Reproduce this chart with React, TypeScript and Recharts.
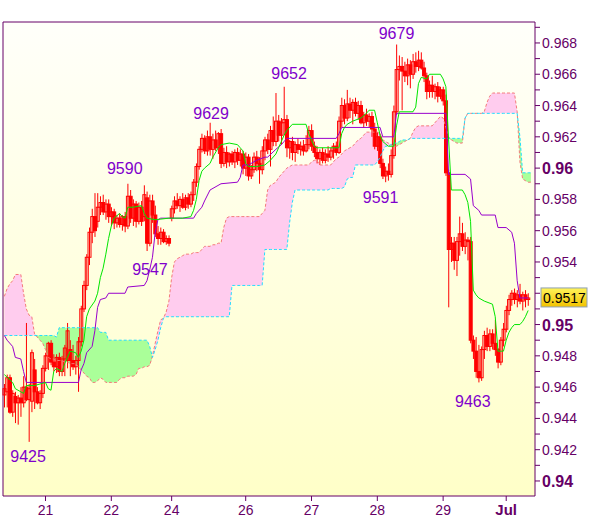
import React from 'react';
import {
  ComposedChart, Bar, Line, Area, XAxis, YAxis, CartesianGrid,
  ReferenceArea, ReferenceDot,
} from 'recharts';

// Prices are in pips (9517 = 0.9517)
// Hourly candles: [open, high, low, close]
const CANDLES: number[][] = [
  [9455, 9462, 9447, 9459], [9457, 9468, 9447, 9466], [9466, 9468, 9443, 9444], [9444, 9458, 9441, 9456],
  [9454, 9457, 9437, 9450], [9450, 9455, 9436, 9453], [9453, 9460, 9441, 9450], [9450, 9467, 9447, 9460],
  [9460, 9501, 9451, 9452], [9452, 9462, 9425, 9459], [9451, 9484, 9444, 9482], [9471, 9478, 9446, 9457],
  [9457, 9460, 9449, 9450], [9450, 9458, 9446, 9456], [9456, 9474, 9453, 9472], [9472, 9482, 9470, 9480],
  [9480, 9489, 9471, 9488], [9488, 9490, 9474, 9476], [9476, 9481, 9470, 9473], [9473, 9481, 9469, 9479],
  [9479, 9482, 9467, 9470], [9470, 9480, 9467, 9478], [9478, 9487, 9467, 9485], [9477, 9501, 9472, 9496],
  [9484, 9490, 9467, 9477], [9477, 9487, 9471, 9473], [9473, 9480, 9468, 9477], [9477, 9492, 9457, 9489],
  [9489, 9512, 9486, 9510], [9510, 9528, 9508, 9525], [9525, 9545, 9522, 9543], [9543, 9562, 9538, 9559],
  [9559, 9574, 9552, 9569], [9569, 9584, 9556, 9560], [9566, 9584, 9562, 9575], [9575, 9582, 9570, 9578],
  [9578, 9583, 9570, 9572], [9572, 9580, 9567, 9577], [9577, 9580, 9565, 9569], [9569, 9575, 9563, 9572],
  [9572, 9574, 9561, 9565], [9565, 9570, 9562, 9568], [9568, 9571, 9562, 9564], [9564, 9570, 9560, 9569],
  [9569, 9572, 9559, 9563], [9563, 9590, 9561, 9582], [9582, 9586, 9565, 9568], [9568, 9580, 9563, 9577],
  [9577, 9579, 9562, 9566], [9566, 9578, 9564, 9575], [9575, 9579, 9563, 9566], [9569, 9589, 9566, 9583],
  [9581, 9585, 9547, 9552], [9552, 9583, 9550, 9579], [9579, 9583, 9565, 9570], [9570, 9576, 9556, 9558],
  [9558, 9563, 9551, 9555], [9555, 9562, 9551, 9559], [9559, 9561, 9552, 9553], [9553, 9557, 9551, 9555],
  [9555, 9557, 9550, 9552], [9568, 9576, 9566, 9574], [9574, 9582, 9571, 9579], [9579, 9584, 9574, 9576],
  [9576, 9582, 9572, 9580], [9580, 9584, 9574, 9575], [9575, 9583, 9573, 9581], [9581, 9584, 9574, 9577],
  [9577, 9585, 9575, 9583], [9583, 9593, 9579, 9591], [9591, 9603, 9588, 9601], [9601, 9614, 9599, 9612],
  [9612, 9622, 9610, 9619], [9619, 9621, 9609, 9611], [9611, 9624, 9608, 9620], [9620, 9629, 9608, 9612],
  [9612, 9622, 9606, 9618], [9618, 9624, 9611, 9613], [9613, 9623, 9609, 9622], [9622, 9625, 9600, 9603],
  [9603, 9613, 9601, 9610], [9610, 9614, 9600, 9604], [9604, 9610, 9601, 9609], [9609, 9611, 9602, 9604],
  [9604, 9612, 9600, 9610], [9610, 9613, 9602, 9605], [9605, 9612, 9601, 9609], [9609, 9611, 9596, 9600],
  [9600, 9610, 9595, 9607], [9607, 9609, 9592, 9595], [9595, 9602, 9593, 9599], [9599, 9610, 9597, 9607],
  [9607, 9611, 9598, 9603], [9603, 9607, 9590, 9599], [9599, 9614, 9596, 9611], [9611, 9620, 9605, 9618],
  [9618, 9622, 9609, 9612], [9612, 9627, 9601, 9624], [9624, 9633, 9614, 9617], [9617, 9648, 9614, 9630],
  [9630, 9634, 9617, 9621], [9621, 9632, 9615, 9629], [9629, 9652, 9621, 9631], [9631, 9634, 9607, 9613],
  [9613, 9618, 9606, 9617], [9617, 9620, 9605, 9610], [9610, 9617, 9604, 9615], [9615, 9619, 9609, 9612],
  [9612, 9617, 9608, 9614], [9614, 9618, 9608, 9611], [9611, 9621, 9610, 9615], [9615, 9627, 9612, 9624],
  [9624, 9628, 9611, 9614], [9614, 9617, 9607, 9610], [9610, 9614, 9603, 9606], [9606, 9612, 9602, 9610],
  [9610, 9613, 9603, 9605], [9605, 9612, 9603, 9609], [9609, 9614, 9604, 9607], [9607, 9613, 9605, 9611],
  [9611, 9616, 9606, 9614], [9614, 9617, 9608, 9610], [9610, 9633, 9609, 9630], [9630, 9645, 9626, 9640],
  [9640, 9644, 9628, 9632], [9632, 9650, 9630, 9641], [9641, 9645, 9632, 9637], [9637, 9644, 9628, 9642],
  [9642, 9645, 9633, 9635], [9635, 9643, 9631, 9640], [9640, 9643, 9628, 9629], [9629, 9636, 9626, 9634],
  [9634, 9638, 9627, 9630], [9630, 9635, 9626, 9633], [9633, 9636, 9620, 9625], [9625, 9629, 9612, 9614],
  [9614, 9623, 9611, 9620], [9620, 9622, 9600, 9603], [9603, 9606, 9593, 9595], [9595, 9601, 9591, 9598],
  [9598, 9603, 9592, 9596], [9596, 9612, 9594, 9608], [9608, 9640, 9606, 9636], [9636, 9679, 9634, 9663],
  [9663, 9672, 9656, 9665], [9665, 9671, 9637, 9662], [9662, 9668, 9655, 9659], [9659, 9670, 9653, 9666],
  [9666, 9669, 9651, 9660], [9660, 9673, 9657, 9668], [9668, 9674, 9661, 9665], [9665, 9675, 9662, 9669],
  [9669, 9674, 9663, 9664], [9664, 9668, 9655, 9659], [9659, 9661, 9644, 9649], [9649, 9656, 9645, 9653],
  [9653, 9659, 9645, 9649], [9649, 9654, 9644, 9652], [9652, 9655, 9642, 9646], [9646, 9652, 9644, 9650],
  [9650, 9652, 9640, 9643], [9643, 9647, 9595, 9597], [9597, 9599, 9511, 9548], [9548, 9556, 9540, 9552],
  [9552, 9556, 9535, 9541], [9541, 9556, 9531, 9553], [9553, 9569, 9544, 9558], [9558, 9565, 9547, 9550],
  [9550, 9559, 9545, 9554], [9554, 9556, 9541, 9553], [9553, 9556, 9488, 9490], [9490, 9493, 9478, 9483],
  [9483, 9492, 9466, 9470], [9470, 9487, 9463, 9466], [9466, 9486, 9464, 9484], [9484, 9496, 9478, 9493],
  [9493, 9498, 9483, 9486], [9486, 9497, 9483, 9494], [9494, 9497, 9484, 9488], [9488, 9503, 9480, 9484],
  [9484, 9485, 9472, 9476], [9476, 9492, 9474, 9490], [9490, 9501, 9486, 9497], [9497, 9512, 9495, 9509],
  [9509, 9519, 9506, 9516], [9516, 9522, 9512, 9520], [9520, 9523, 9513, 9516], [9516, 9522, 9511, 9519],
  [9519, 9526, 9513, 9515], [9515, 9521, 9509, 9519], [9519, 9522, 9511, 9516], [9516, 9520, 9512, 9517],
];

// Senkou span A (salmon dashed), one value per slot
const SPAN_A: (number | null)[] = [
  9518, 9523, 9526, 9528, 9532, 9532, 9532, 9520, 9510, 9506,
  9505, 9494, 9492, 9490, 9488, 9484, 9479, 9478, 9478, 9477,
  9477, 9477, 9476, 9476, 9475, 9475, 9475, 9473, 9471, 9469,
  9467, 9466, 9463, 9463, 9464, 9466, 9465, 9463, 9463, 9463,
  9463, 9463, 9465, 9466, 9466, 9467, 9467, 9467, 9468, 9472,
  9472, 9473, 9473, 9474, 9480, 9488, 9496, 9503, 9504, 9508,
  9515, 9530, 9540, 9542, 9543, 9544, 9545, 9545, 9545, 9546,
  9546, 9546, 9548, 9550, 9550, 9550, 9551, 9551, 9552, 9552,
  9562, 9568, 9569, 9569, 9569, 9569, 9569, 9569, 9569, 9569,
  9569, 9569, 9569, 9569, 9571, 9573, 9586, 9589, 9590, 9591,
  9594, 9596, 9598, 9600, 9601, 9602, 9602, 9602, 9602, 9602,
  9602, 9602, 9604, 9605, 9605, 9602, 9602, 9602, 9602, 9602,
  9604, 9606, 9607, 9609, 9611, 9612, 9613, 9614, 9616, 9618,
  9619, 9621, 9623, 9623, 9623, 9623, 9623, 9622, 9618, 9617,
  9616, 9615, 9614, 9614, 9615, 9616, 9617, 9618, 9619, 9623,
  9626, 9627, 9627, 9627, 9627, 9627, 9627, 9629, 9631, 9633,
  9632, 9626, 9620, 9618, 9617, 9616, 9616, 9616, 9632, 9635,
  9635, 9635, 9635, 9635, 9635, 9636, 9642, 9646, 9648, 9648,
  9648, 9648, 9648, 9648, 9648, 9648, 9648, 9636, 9604, 9593,
  9592, 9591, 9591, null,
];

// Senkou span B (cyan dashed), one value per slot
const SPAN_B: (number | null)[] = [
  9493, 9493, 9493, 9493, 9493, 9493, 9493, 9493, 9493, 9493,
  9493, 9493, 9493, 9493, 9493, 9493, 9493, 9493, 9493, 9492,
  9498, 9498, 9498, 9498, 9498, 9498, 9498, 9498, 9498, 9498,
  9498, 9498, 9498, 9498, 9498, 9495, 9495, 9495, 9490, 9490,
  9490, 9490, 9490, 9490, 9490, 9490, 9490, 9490, 9490, 9490,
  9490, 9490, 9490, 9486, 9479, 9484, 9490, 9498, 9504, 9505,
  9505, 9505, 9505, 9505, 9505, 9505, 9505, 9505, 9505, 9505,
  9505, 9505, 9505, 9505, 9505, 9505, 9505, 9505, 9505, 9505,
  9505, 9505, 9505, 9525, 9525, 9525, 9525, 9525, 9525, 9525,
  9525, 9525, 9525, 9525, 9525, 9548, 9548, 9548, 9548, 9548,
  9548, 9548, 9548, 9548, 9565, 9578, 9586, 9586, 9586, 9586,
  9586, 9586, 9586, 9586, 9586, 9586, 9586, 9586, 9586, 9587,
  9587, 9587, 9587, 9587, 9588, 9593, 9594, 9594, 9602, 9602,
  9602, 9602, 9602, 9602, 9602, 9602, 9604, 9607, 9611, 9614,
  9614, 9615, 9616, 9616, 9617, 9618, 9618, 9618, 9619, 9619,
  9619, 9619, 9619, 9619, 9619, 9619, 9619, 9619, 9619, 9619,
  9619, 9619, 9619, 9619, 9619, 9619, 9619, 9619, 9632, 9635,
  9635, 9635, 9635, 9635, 9635, 9635, 9635, 9635, 9635, 9635,
  9635, 9635, 9635, 9635, 9635, 9635, 9635, 9635, 9620, 9597,
  9597, 9597, 9597, null,
];

// Tenkan-sen (green) vertices: [slot, pips]
const TENKAN: number[][] = [
  [0, 9468], [3, 9463], [4, 9459], [6, 9457], [7, 9456], [8, 9461], [11, 9461], [15, 9463], [16, 9459],
  [17, 9458], [18, 9470], [19, 9472], [21, 9470], [22, 9475], [23, 9479], [24, 9483], [26, 9482], [27, 9479],
  [28, 9483], [29, 9490], [30, 9505], [31, 9510], [33, 9515], [34, 9520], [35, 9530], [36, 9536], [37, 9545],
  [38, 9555], [39, 9563], [40, 9568], [42, 9571], [43, 9569], [44, 9568], [45, 9575], [47, 9575], [50, 9576],
  [51, 9571], [52, 9568], [55, 9567], [60, 9568], [65, 9568], [68, 9569], [69, 9573], [70, 9580], [71, 9592],
  [72, 9598], [73, 9600], [75, 9603], [76, 9607], [78, 9613], [79, 9615], [82, 9616], [85, 9615], [86, 9613],
  [87, 9611], [88, 9603], [89, 9601], [92, 9601], [95, 9602], [97, 9605], [99, 9609], [100, 9613], [101, 9617],
  [102, 9621], [103, 9624], [105, 9628], [110, 9628], [111, 9622], [112, 9618], [113, 9614], [114, 9613],
  [122, 9613], [123, 9622], [124, 9626], [125, 9628], [127, 9630], [130, 9632], [132, 9635], [133, 9637],
  [135, 9637], [136, 9629], [137, 9621], [138, 9617], [140, 9614], [142, 9614], [143, 9627], [144, 9636],
  [149, 9636], [150, 9639], [151, 9654], [152, 9658], [154, 9657], [155, 9660], [159, 9660], [160, 9657],
  [161, 9652], [162, 9618], [163, 9586], [167, 9586], [168, 9583], [169, 9578], [170, 9566], [171, 9522],
  [172, 9519], [173, 9517], [175, 9515], [178, 9513], [179, 9505], [180, 9483], [182, 9483], [183, 9490],
  [184, 9495], [185, 9498], [186, 9500], [188, 9500], [189, 9502], [190, 9505], [191, 9509],
];

// Kijun-sen (purple) vertices: [slot, pips]
const KIJUN: number[][] = [
  [0, 9493], [1, 9490], [3, 9486], [4, 9479], [6, 9478], [7, 9470], [8, 9463], [27, 9463], [28, 9471],
  [29, 9475], [30, 9482], [32, 9486], [33, 9496], [34, 9511], [35, 9516], [37, 9517], [38, 9520], [44, 9520],
  [45, 9524], [51, 9525], [52, 9528], [53, 9535], [54, 9543], [55, 9559], [56, 9567], [57, 9568], [69, 9568],
  [70, 9571], [72, 9575], [73, 9579], [75, 9586], [79, 9590], [85, 9591], [86, 9594], [87, 9602], [89, 9602],
  [92, 9605], [95, 9607], [96, 9607], [99, 9612], [101, 9615], [102, 9617], [103, 9619], [121, 9619],
  [122, 9622], [123, 9626], [137, 9626], [138, 9620], [142, 9620], [143, 9635], [161, 9635], [162, 9596],
  [168, 9596], [170, 9593], [171, 9576], [173, 9573], [174, 9570], [179, 9570], [180, 9562], [183, 9562],
  [185, 9559], [186, 9552], [187, 9528], [188, 9517], [191, 9517],
];

// Day ticks: [slot, label, bold]
const DAY_TICKS: [number, string, boolean][] = [
  [15, '21', false], [39, '22', false], [61, '24', false], [88, '26', false],
  [112, '27', false], [136, '28', false], [160, '29', false], [183, 'Jul', true],
];

const Y_TICKS = [
  0.94, 0.941, 0.942, 0.943, 0.944, 0.945, 0.946, 0.947, 0.948, 0.949,
  0.95, 0.951, 0.952, 0.953, 0.954, 0.955, 0.956, 0.957, 0.958, 0.959,
  0.96, 0.961, 0.962, 0.963, 0.964, 0.965, 0.966, 0.967, 0.968, 0.969,
];

// Swing labels: [slot, pips, baseline offset from the extreme, horizontal shift]
const SWINGS: [number, number, number, number][] = [
  [9, 9425, 20, -1], [45, 9590, -10, -3], [52, 9547, 24, 3], [75, 9629, -4, 1],
  [102, 9652, -8, 5], [143, 9679, -6, 0], [139, 9591, 21, -5], [173, 9463, 25, -6],
];

const LAST_PRICE = 9517;
const SLOTS = 194;
const Y_DOMAIN: [number, number] = [0.93904, 0.96934];

const AXIS = '#660066';
const FONT = "'Liberation Sans', Arial, sans-serif";
const P = (v: number) => v / 10000;

const rows: any[] = Array.from({ length: SLOTS }, (_, i) => {
  const row: any = { i };
  const k = CANDLES[i];
  if (k) {
    row.o = P(k[0]); row.h = P(k[1]); row.l = P(k[2]); row.c = P(k[3]);
    row.range = [row.l, row.h];
  } else {
    row.range = null;
  }
  const a = SPAN_A[i];
  const b = SPAN_B[i];
  if (a != null && b != null) {
    row.spanA = P(a);
    row.spanB = P(b);
    row.pink = a >= b ? [P(b), P(a)] : [P(a), P(a)];
    row.green = a < b ? [P(a), P(b)] : [P(b), P(b)];
  }
  return row;
});
TENKAN.forEach(([i, v]) => { rows[i].tenkan = P(v); });
KIJUN.forEach(([i, v]) => { rows[i].kijun = P(v); });

const Candle = (props: any) => {
  const { x, y, width, height, payload } = props;
  if (!payload || payload.o == null || height == null || isNaN(y)) return <g />;
  const { o, h, l, c } = payload;
  const span = h - l || 1e-9;
  const py = (v: number) => y + ((h - v) / span) * height;
  const cx = x + width / 2;
  const top = py(Math.max(o, c));
  const bot = py(Math.min(o, c));
  const bh = Math.max(bot - top, 1);
  const bull = c >= o;
  return (
    <g>
      <line x1={cx} x2={cx} y1={y} y2={y + height} stroke="#ff0000" strokeWidth={1} />
      <rect x={cx - 1.5} y={top} width={3} height={bh}
        fill={bull ? 'none' : '#ff0000'} stroke="#ff0000" strokeWidth={1} />
    </g>
  );
};

const XTick = (props: any) => {
  const { x, y, payload } = props;
  const d = DAY_TICKS.find((t) => t[0] === payload.value);
  if (!d) return <g />;
  return (
    <g>
      <line x1={x} x2={x} y1={y} y2={y + 5} stroke={AXIS} />
      <text x={x} y={y + 19} textAnchor="middle" fontFamily={FONT}
        fontSize={d[2] ? 15 : 14} fontWeight={d[2] ? 700 : 400} fill={AXIS}>{d[1]}</text>
    </g>
  );
};

const YTick = (props: any) => {
  const { x, y, payload } = props;
  const m = Math.round(payload.value * 1000);
  const major = m % 2 === 0;
  const bold = m % 10 === 0;
  return (
    <g>
      <line x1={x} x2={x + 5} y1={y} y2={y} stroke={AXIS} />
      {major && (
        <text x={x + 7} y={y + (bold ? 6 : 5)} fontFamily={FONT}
          fontSize={bold ? 16 : 14} fontWeight={bold ? 700 : 400} fill={AXIS}>
          {String(m / 1000)}
        </text>
      )}
    </g>
  );
};

// Drawn by a second (tick-only) right axis so it sits above the main axis labels
const TagTick = (props: any) => {
  const { y, payload } = props;
  if (y == null || !payload) return <g />;
  const x = 541;
  return (
    <g>
      <rect x={x} y={y - 10} width={46} height={19} fill="url(#tagGrad)" stroke="#8fa0b4" strokeWidth={1} />
      <text x={x + 2} y={y + 5} fontFamily={FONT} fontSize={14} fill="#000">{Number(payload.value).toFixed(4)}</text>
    </g>
  );
};

const SwingLabel = (props: any) => {
  const vb = props.viewBox;
  if (!vb) return <g />;
  const cx = vb.x + (vb.width || 0) / 2;
  const cy = vb.y + (vb.height || 0) / 2;
  return (
    <text x={cx + props.dxs} y={cy + props.dys} textAnchor="middle" fontFamily={FONT}
      fontSize={16} fill="#8000cc">{props.text}</text>
  );
};

export default function App() {
  return (
    <div style={{ position: 'absolute', left: 0, top: 0, width: 600, height: 519, background: '#fff' }}>
      <ComposedChart width={600} height={519} data={rows}
        margin={{ top: 22, right: 4, bottom: 3, left: 3 }} barCategoryGap={0} barGap={0}>
        <defs>
          <linearGradient id="bgGrad" x1="0" y1="0" x2="0" y2="1">
            <stop offset="0%" stopColor="#fffffa" />
            <stop offset="100%" stopColor="#ffffc8" />
          </linearGradient>
          <linearGradient id="tagGrad" x1="0" y1="0" x2="0" y2="1">
            <stop offset="0%" stopColor="#fff45a" />
            <stop offset="100%" stopColor="#f2c200" />
          </linearGradient>
        </defs>
        <CartesianGrid horizontal={false} vertical={false} fill="url(#bgGrad)" stroke="none" />
        <XAxis dataKey="i" type="category" interval={0} height={20} tick={(p: any) => <XTick {...p} />}
          tickLine={false} axisLine={false} tickSize={0} tickMargin={0} />
        <YAxis orientation="right" type="number" width={60} domain={Y_DOMAIN} ticks={Y_TICKS}
          interval={0} allowDataOverflow tick={(p: any) => <YTick {...p} />}
          tickLine={false} axisLine={false} tickSize={0} tickMargin={0} />
        <YAxis yAxisId="tag" orientation="right" type="number" width={1} domain={Y_DOMAIN}
          ticks={[P(LAST_PRICE)]} interval={0} allowDataOverflow tick={(p: any) => <TagTick {...p} />}
          tickLine={false} axisLine={false} tickSize={0} tickMargin={0} />
        <Area dataKey="pink" type="linear" fill="#ffccee" fillOpacity={1} stroke="none" isAnimationActive={false} />
        <Area dataKey="green" type="linear" fill="#aaff99" fillOpacity={1} stroke="none" isAnimationActive={false} />
        <Line dataKey="spanA" type="linear" stroke="#f47a7a" strokeWidth={1} strokeDasharray="3 2" dot={false} isAnimationActive={false} />
        <Line dataKey="spanB" type="linear" stroke="#22ddff" strokeWidth={1} strokeDasharray="3 2" dot={false} isAnimationActive={false} />
        <Bar dataKey="range" shape={(p: any) => <Candle {...p} />} isAnimationActive={false} />
        <Line dataKey="kijun" type="linear" stroke="#9900cc" strokeWidth={1} dot={false} connectNulls isAnimationActive={false} />
        <Line dataKey="tenkan" type="linear" stroke="#00e600" strokeWidth={1} dot={false} connectNulls isAnimationActive={false} />
        <Line yAxisId="tag" dataKey="c" stroke="none" strokeWidth={0} dot={false} activeDot={false}
          legendType="none" isAnimationActive={false} />
        {SWINGS.map(([i, v, dys, dxs]) => (
          <ReferenceDot key={v} x={i} y={P(v)} r={0} fill="none" stroke="none"
            label={(p: any) => <SwingLabel {...p} text={String(v)} dys={dys} dxs={dxs} />} />
        ))}
        <ReferenceArea y1={Y_DOMAIN[0]} y2={Y_DOMAIN[1]} fill="none" stroke={AXIS} strokeWidth={1} fillOpacity={0} />
      </ComposedChart>
    </div>
  );
}
